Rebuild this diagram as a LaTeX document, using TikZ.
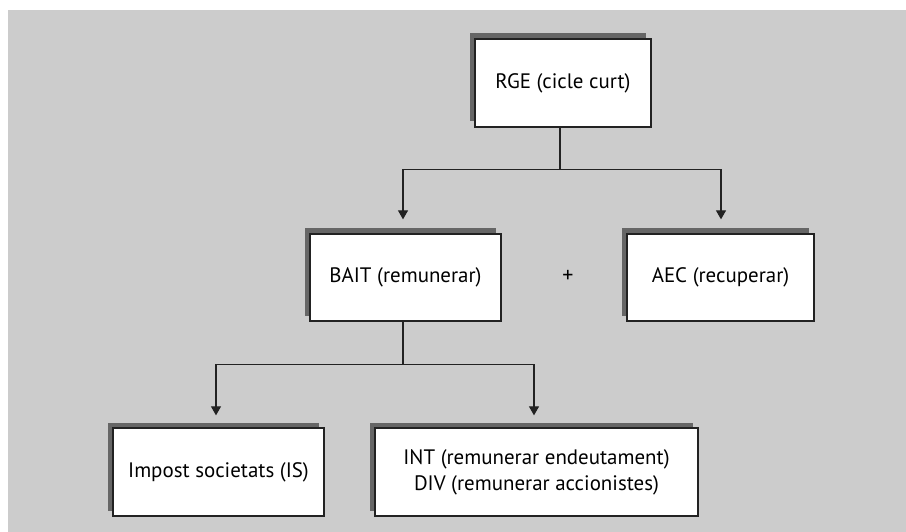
\documentclass[tikz,border=0pt]{standalone}
\usepackage{fontspec}
\setmainfont{PT Sans}
\usetikzlibrary{arrows.meta,calc,shadows}
\definecolor{panelgray}{HTML}{CCCCCC}
\definecolor{shadowgray}{HTML}{666666}
\definecolor{inkline}{HTML}{222222}
\tikzset{
  card/.style={draw=inkline, line width=1.3bp, fill=white, align=center,
    inner sep=0pt, font=\fontsize{21}{26}\selectfont,
    general shadow={shadow xshift=-5.5bp, shadow yshift=5.5bp, fill=shadowgray}},
  link/.style={draw=inkline, line width=1.2bp},
  arrowlink/.style={link, -{Triangle[width=10bp,length=9bp]}}
}
\begin{document}
\begin{tikzpicture}[x=1bp,y=-1bp]
  % page frame and grey panel
  \useasboundingbox (0,0) rectangle (906,532);
  \fill[panelgray] (8,10) rectangle (906,532);

  % boxes
  \node[card, minimum width=176bp, minimum height=88bp] (rge) at (563,83) {RGE (cicle curt)};
  \node[card, minimum width=191bp, minimum height=87bp] (bait) at (405.5,277.5) {BAIT (remunerar)};
  \node[card, minimum width=187bp, minimum height=87bp] (aec) at (720.5,277.5) {AEC (recuperar)};
  \node[card, minimum width=211bp, minimum height=88bp] (is) at (218.5,472) {Impost societats (IS)};
  \node[card, minimum width=323bp, minimum height=88bp] (int) at (536.5,472)
    {INT (remunerar endeutament)\\DIV (remunerar accionistes)};
  \node[font=\fontsize{22}{26}\selectfont] (plus) at (568,276) {+};

  % split below RGE
  \coordinate (j1) at ($(rge.south)+(-3,42)$);
  \coordinate (t1) at ($(bait.north)+(-2.5,-14)$);
  \coordinate (t2) at ($(aec.north)+(0.5,-14)$);
  \draw[link] ($(rge.south)+(-3,0)$) -- (j1);
  \draw[arrowlink] (j1) -| (t1);
  \draw[arrowlink] (j1) -| (t2);

  % split below BAIT
  \coordinate (j2) at ($(bait.south)+(-2.5,43)$);
  \coordinate (t3) at ($(is.north)+(-2.5,-12)$);
  \coordinate (t4) at ($(int.north)+(-2.5,-12)$);
  \draw[link] ($(bait.south)+(-2.5,0)$) -- (j2);
  \draw[arrowlink] (j2) -| (t3);
  \draw[arrowlink] (j2) -| (t4);
\end{tikzpicture}
\end{document}
